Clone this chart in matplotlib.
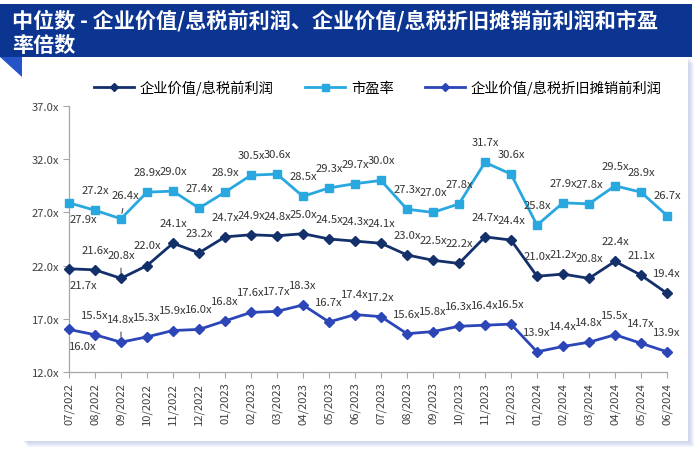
import matplotlib.pyplot as plt
import matplotlib.patches as mpatches
from matplotlib.lines import Line2D
from matplotlib.ticker import FuncFormatter

plt.rcParams['font.family'] = ['Noto Sans CJK SC', 'DejaVu Sans']

# ---- data ----
months = ["07/2022", "08/2022", "09/2022", "10/2022", "11/2022", "12/2022",
          "01/2023", "02/2023", "03/2023", "04/2023", "05/2023", "06/2023",
          "07/2023", "08/2023", "09/2023", "10/2023", "11/2023", "12/2023",
          "01/2024", "02/2024", "03/2024", "04/2024", "05/2024", "06/2024"]
ev_ebit = [21.7, 21.6, 20.8, 22.0, 24.1, 23.2, 24.7, 24.9, 24.8, 25.0, 24.5, 24.3,
           24.1, 23.0, 22.5, 22.2, 24.7, 24.4, 21.0, 21.2, 20.8, 22.4, 21.1, 19.4]
pe_ratio = [27.9, 27.2, 26.4, 28.9, 29.0, 27.4, 28.9, 30.5, 30.6, 28.5, 29.3, 29.7,
            30.0, 27.3, 27.0, 27.8, 31.7, 30.6, 25.8, 27.9, 27.8, 29.5, 28.9, 26.7]
ev_ebitda = [16.0, 15.5, 14.8, 15.3, 15.9, 16.0, 16.8, 17.6, 17.7, 18.3, 16.7, 17.4,
             17.2, 15.6, 15.8, 16.3, 16.4, 16.5, 13.9, 14.4, 14.8, 15.5, 14.7, 13.9]
series_names = ["企业价值/息税前利润", "市盈率", "企业价值/息税折旧摊销前利润"]
title = "中位数 - 企业价值/息税前利润、企业价值/息税折旧摊销前利润和市盈\n率倍数"

W, H = 700, 456
fig = plt.figure(figsize=(W / 100, H / 100), dpi=100)
fig.patch.set_facecolor("white")


def fx(px):
    return px / W


def fy(py):
    return 1 - py / H


def rect(x0, y0, x1, y1, **kw):
    # pixel box, y measured from the top
    fig.patches.append(mpatches.Rectangle((fx(x0), fy(y1)), fx(x1 - x0), (y1 - y0) / H,
                                          transform=fig.transFigure, **kw))


# card shadow + card
for off in range(1, 7):
    rect(22 + off, 58 + off, 688 + off, 442 + off, facecolor="#b9c6e2", alpha=0.16,
         edgecolor="none", zorder=0)
rect(22, 58, 688, 442, facecolor="white", edgecolor="none", zorder=1)

# title banner with folded corner
rect(0, 5, 692, 58, facecolor="#0b3591", edgecolor="none", zorder=2)
fig.patches.append(mpatches.Polygon([(fx(0), fy(58)), (fx(22), fy(58)), (fx(22), fy(78))],
                                    closed=True, transform=fig.transFigure,
                                    facecolor="#2553c8", edgecolor="none", zorder=2))
fig.text(fx(12), fy(33), title, color="white", fontsize=15.2, fontweight="bold",
         va="center", ha="left", linespacing=1.25, zorder=3)

# ---- chart ----
ax = fig.add_axes([fx(69), fy(373), fx(667 - 69), (373 - 107) / H])
ax.set_zorder(3)
ax.patch.set_alpha(0)
x = list(range(len(months)))

styles = [
    (ev_ebit, "#14306b", "D", 4.6),
    (pe_ratio, "#28a8df", "s", 5.6),
    (ev_ebitda, "#2c46b8", "D", 4.6),
]
for (vals, color, marker, ms), name in zip(styles, series_names):
    ax.plot(x, vals, color=color, lw=2.0, marker=marker, markersize=ms,
            label=name, clip_on=False, zorder=3)

label_kw = dict(fontsize=8.1, color="#333333", ha="center", va="center")
leader = {(0, 2), (1, 2), (2, 2)}
for si, (vals, color, marker, ms) in enumerate(styles):
    for i, v in enumerate(vals):
        if i == 0:
            off = (10, -12)
        elif (si, i) in leader:
            off = (3 if si == 1 else 0, 17)
        else:
            off = (0, 14.5)
        arrow = None
        if (si, i) in leader:
            arrow = dict(arrowstyle="-", color="#333333", lw=0.7, shrinkA=4, shrinkB=4)
        ax.annotate(f"{v:.1f}x", (i, v), xytext=off, textcoords="offset points",
                    arrowprops=arrow, zorder=4, **label_kw)

ax.set_xlim(0, 23)
ax.set_ylim(12, 37)
ax.set_yticks([12, 17, 22, 27, 32, 37])
ax.yaxis.set_major_formatter(FuncFormatter(lambda v, p: f"{v:.1f}x"))
ax.set_xticks(x)
ax.set_xticklabels(months, rotation=90)
for s in ("top", "right"):
    ax.spines[s].set_visible(False)
for s in ("left", "bottom"):
    ax.spines[s].set_color("#a6a6a6")
    ax.spines[s].set_linewidth(0.9)
ax.tick_params(axis="both", direction="out", length=4, width=0.8, color="#a6a6a6",
               labelsize=8.1, labelcolor="#404040", pad=3)

handles = [Line2D([], [], color=c, lw=2.0, marker=m, markersize=ms * 0.9)
           for _, c, m, ms in styles]
fig.legend(handles, series_names, loc="center", bbox_to_anchor=(fx(378), fy(88)),
           ncol=3, frameon=False, fontsize=10.3, handlelength=2.8, handletextpad=0.4,
           columnspacing=2.2)

fig.savefig("out.png", dpi=100)
